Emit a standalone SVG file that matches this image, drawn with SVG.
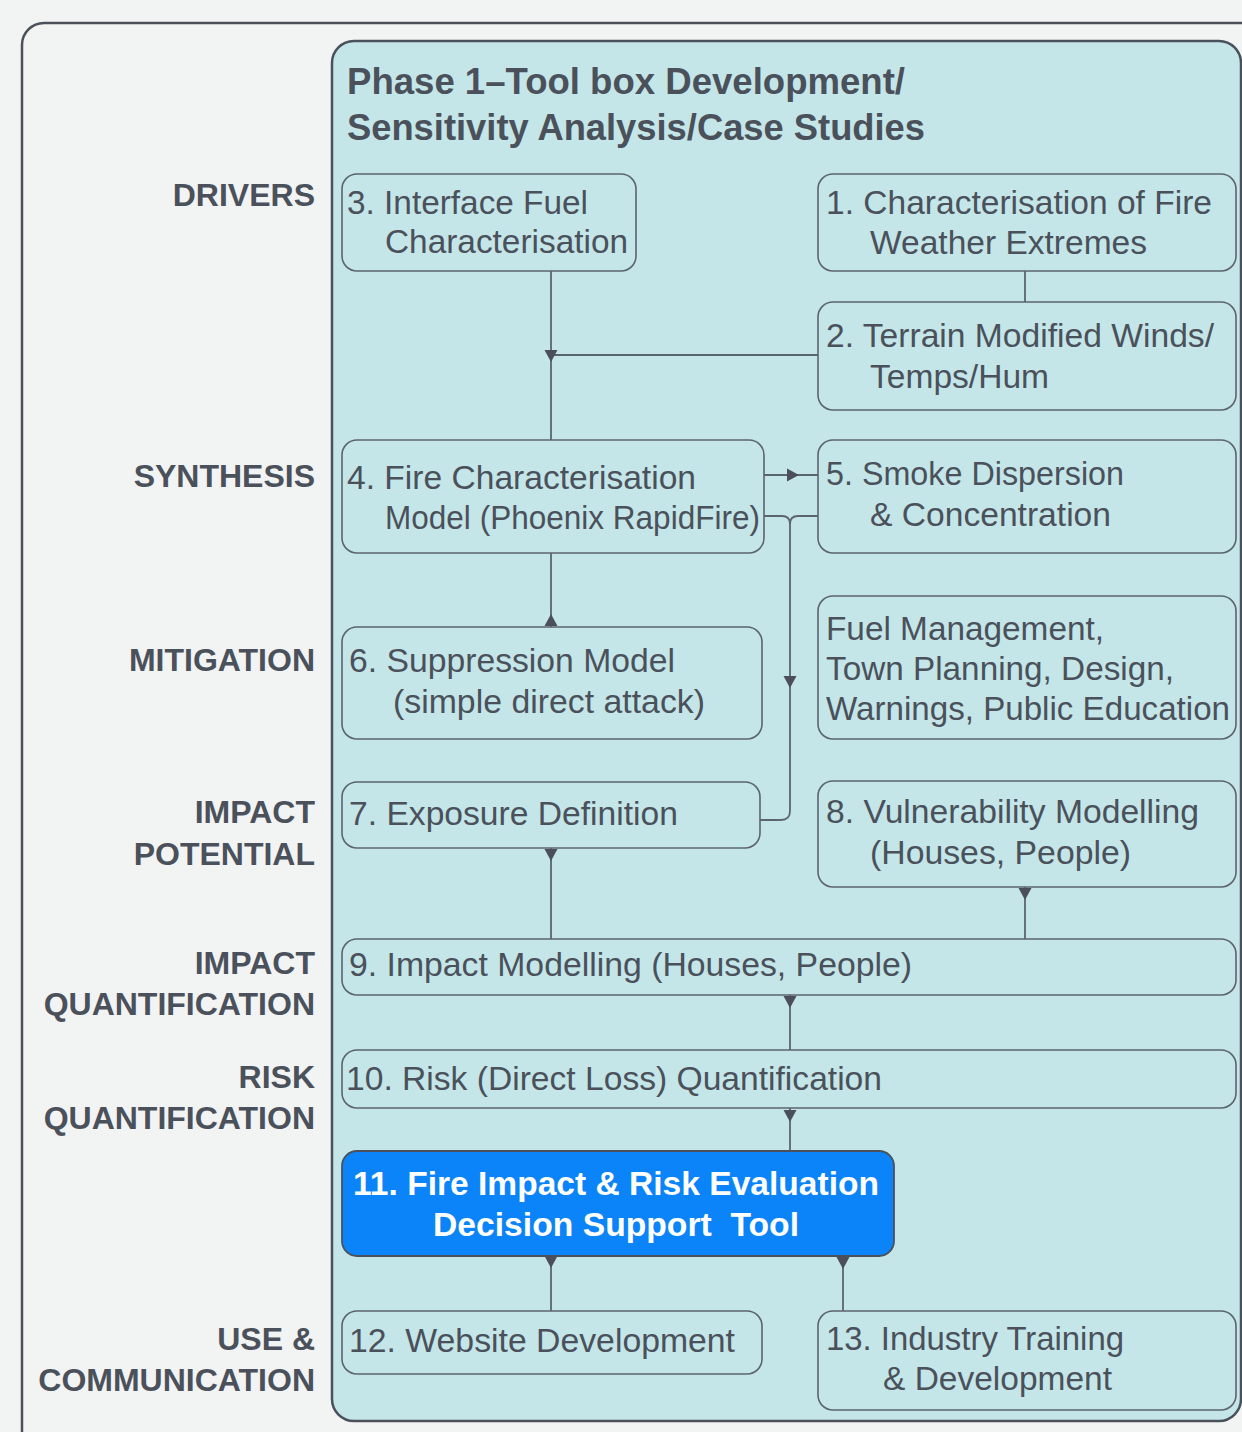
<svg xmlns="http://www.w3.org/2000/svg" xmlns:xlink="http://www.w3.org/1999/xlink" width="1242" height="1432" viewBox="0 0 1242 1432">
<style>
.bg{fill:#f2f3f3}
.outer{fill:#f2f3f3;stroke:#4b515b;stroke-width:2.5}
.panel{fill:#c4e6e8;stroke:#4b515b;stroke-width:2.5}
.node{fill:#c4e6e8;stroke:#5c646e;stroke-width:1.6}
.hl{fill:#0a84f8;stroke:#4b515b;stroke-width:1.8}
.t{font-family:"Liberation Sans",Arial,sans-serif;font-size:33px;fill:#4b515b}
.tw{font-family:"Liberation Sans",Arial,sans-serif;font-size:33px;font-weight:bold;fill:#ffffff}
.title{font-family:"Liberation Sans",Arial,sans-serif;font-size:36px;font-weight:bold;fill:#4b515b}
.lab{font-family:"Liberation Sans",Arial,sans-serif;font-size:32px;font-weight:bold;fill:#4b515b;text-anchor:end}
.con{fill:none;stroke:#5c646e;stroke-width:1.8}
.ah{fill:#4b4f5a}
</style>
<defs>
<path id="tri" d="M-6.5,-12 L6.5,-12 L0,0 Z"/>
</defs>
<rect class="bg" x="0" y="0" width="1242" height="1432"/>
<rect class="outer" x="22" y="23" width="1260" height="1440" rx="22"/>
<g id="phase1">
<rect class="panel" x="332" y="41" width="909" height="1380" rx="22"/>
<text class="title" x="347" y="94" textLength="558" lengthAdjust="spacingAndGlyphs">Phase 1–Tool box Development/</text>
<text class="title" x="347" y="140" textLength="578" lengthAdjust="spacingAndGlyphs">Sensitivity Analysis/Case Studies</text>
</g>
<g id="labels">
<text class="lab" x="315" y="206">DRIVERS</text>
<text class="lab" x="315" y="487">SYNTHESIS</text>
<text class="lab" x="315" y="671">MITIGATION</text>
<text class="lab" x="315" y="823">IMPACT</text>
<text class="lab" x="315" y="865">POTENTIAL</text>
<text class="lab" x="315" y="974">IMPACT</text>
<text class="lab" x="315" y="1015">QUANTIFICATION</text>
<text class="lab" x="315" y="1088">RISK</text>
<text class="lab" x="315" y="1129">QUANTIFICATION</text>
<text class="lab" x="315" y="1350">USE &amp;</text>
<text class="lab" x="315" y="1391">COMMUNICATION</text>
</g>
<g id="connectors">
<path class="con" d="M551,271 V440"/>
<path class="con" d="M818,355 H551"/>
<path class="con" d="M1025,271 V302"/>
<path class="con" d="M764,475 H818"/>
<path class="con" d="M764,516 H782 Q790,516 790,524 V811 Q790,820 781,820 H760"/>
<path class="con" d="M818,516 H798 Q790,516 790,524"/>
<path class="con" d="M551,553 V627"/>
<path class="con" d="M551,848 V939"/>
<path class="con" d="M1025,887 V939"/>
<path class="con" d="M790,995 V1050"/>
<path class="con" d="M790,1108 V1151"/>
<path class="con" d="M551,1256 V1311"/>
<path class="con" d="M843,1256 V1311"/>
<use class="ah" xlink:href="#tri" transform="translate(551,362)"/>
<use class="ah" xlink:href="#tri" transform="translate(799,475) rotate(-90)"/>
<use class="ah" xlink:href="#tri" transform="translate(790,688)"/>
<use class="ah" xlink:href="#tri" transform="translate(551,614) rotate(180)"/>
<use class="ah" xlink:href="#tri" transform="translate(551,861)"/>
<use class="ah" xlink:href="#tri" transform="translate(1025,900)"/>
<use class="ah" xlink:href="#tri" transform="translate(790,1008)"/>
<use class="ah" xlink:href="#tri" transform="translate(790,1122)"/>
<use class="ah" xlink:href="#tri" transform="translate(551,1268)"/>
<use class="ah" xlink:href="#tri" transform="translate(843,1269)"/>
</g>
<g id="n3">
<rect class="node" x="342" y="174" width="294" height="97" rx="15"/>
<text class="t" x="347" y="214" textLength="241" lengthAdjust="spacingAndGlyphs">3. Interface Fuel</text>
<text class="t" x="385" y="253" textLength="243" lengthAdjust="spacingAndGlyphs">Characterisation</text>
</g>
<g id="n1">
<rect class="node" x="818" y="174" width="418" height="97" rx="15"/>
<text class="t" x="826" y="214" textLength="386" lengthAdjust="spacingAndGlyphs">1. Characterisation of Fire</text>
<text class="t" x="870" y="254" textLength="277" lengthAdjust="spacingAndGlyphs">Weather Extremes</text>
</g>
<g id="n2">
<rect class="node" x="818" y="302" width="418" height="108" rx="15"/>
<text class="t" x="826" y="347" textLength="388" lengthAdjust="spacingAndGlyphs">2. Terrain Modified Winds/</text>
<text class="t" x="870" y="388" textLength="179" lengthAdjust="spacingAndGlyphs">Temps/Hum</text>
</g>
<g id="n4">
<rect class="node" x="342" y="440" width="422" height="113" rx="15"/>
<text class="t" x="347" y="489" textLength="349" lengthAdjust="spacingAndGlyphs">4. Fire Characterisation</text>
<text class="t" x="385" y="529" textLength="375" lengthAdjust="spacingAndGlyphs">Model (Phoenix RapidFire)</text>
</g>
<g id="n5">
<rect class="node" x="818" y="440" width="418" height="113" rx="15"/>
<text class="t" x="826" y="485" textLength="298" lengthAdjust="spacingAndGlyphs">5. Smoke Dispersion</text>
<text class="t" x="870" y="526" textLength="241" lengthAdjust="spacingAndGlyphs">&amp; Concentration</text>
</g>
<g id="nfuel">
<rect class="node" x="818" y="596" width="418" height="143" rx="15"/>
<text class="t" x="826" y="640" textLength="278" lengthAdjust="spacingAndGlyphs">Fuel Management,</text>
<text class="t" x="826" y="680" textLength="348" lengthAdjust="spacingAndGlyphs">Town Planning, Design,</text>
<text class="t" x="826" y="720" textLength="404" lengthAdjust="spacingAndGlyphs">Warnings, Public Education</text>
</g>
<g id="n6">
<rect class="node" x="342" y="627" width="420" height="112" rx="15"/>
<text class="t" x="349" y="672" textLength="326" lengthAdjust="spacingAndGlyphs">6. Suppression Model</text>
<text class="t" x="393" y="713" textLength="312" lengthAdjust="spacingAndGlyphs">(simple direct attack)</text>
</g>
<g id="n7">
<rect class="node" x="342" y="782" width="418" height="66" rx="15"/>
<text class="t" x="349" y="825" textLength="329" lengthAdjust="spacingAndGlyphs">7. Exposure Definition</text>
</g>
<g id="n8">
<rect class="node" x="818" y="781" width="418" height="106" rx="15"/>
<text class="t" x="826" y="823" textLength="373" lengthAdjust="spacingAndGlyphs">8. Vulnerability Modelling</text>
<text class="t" x="870" y="864" textLength="261" lengthAdjust="spacingAndGlyphs">(Houses, People)</text>
</g>
<g id="n9">
<rect class="node" x="342" y="939" width="894" height="56" rx="15"/>
<text class="t" x="349" y="976" textLength="563" lengthAdjust="spacingAndGlyphs">9. Impact Modelling (Houses, People)</text>
</g>
<g id="n10">
<rect class="node" x="342" y="1050" width="894" height="58" rx="15"/>
<text class="t" x="346" y="1090" textLength="536" lengthAdjust="spacingAndGlyphs">10. Risk (Direct Loss) Quantification</text>
</g>
<g id="n11">
<rect class="hl" x="342" y="1151" width="552" height="105" rx="15"/>
<text class="tw" x="353" y="1195" textLength="526" lengthAdjust="spacingAndGlyphs">11. Fire Impact &amp; Risk Evaluation</text>
<text class="tw" x="433" y="1236" xml:space="preserve" textLength="366" lengthAdjust="spacingAndGlyphs">Decision Support  Tool</text>
</g>
<g id="n12">
<rect class="node" x="342" y="1311" width="420" height="63" rx="15"/>
<text class="t" x="349" y="1352" textLength="386" lengthAdjust="spacingAndGlyphs">12. Website Development</text>
</g>
<g id="n13">
<rect class="node" x="818" y="1311" width="418" height="99" rx="15"/>
<text class="t" x="826" y="1350" textLength="298" lengthAdjust="spacingAndGlyphs">13. Industry Training</text>
<text class="t" x="883" y="1390" textLength="229" lengthAdjust="spacingAndGlyphs">&amp; Development</text>
</g>
</svg>
